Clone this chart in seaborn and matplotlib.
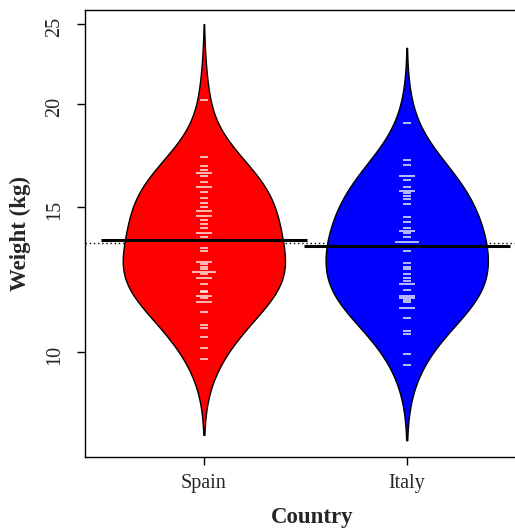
import numpy as np
import pandas as pd
import matplotlib
matplotlib.use("Agg")
import matplotlib.pyplot as plt
from matplotlib.ticker import NullLocator, FixedLocator
import seaborn as sns

countries = ["Spain", "Italy"]
colors = ["#FF0000", "#0000FF"]

spain_weight = [20.22, 17.25, 16.81, 16.63, 16.49, 16.49, 16.35, 16.08, 15.85, 15.85,
                15.63, 15.37, 15.16, 14.99, 14.82, 14.82, 14.62, 14.62, 14.45, 14.29,
                14.13, 13.95, 13.95, 13.79, 13.37, 13.26, 12.86, 12.86, 12.79, 12.69,
                12.62, 12.51, 12.51, 12.51, 12.44, 12.30, 12.30, 12.10, 11.86, 11.83,
                11.70, 11.70, 11.63, 11.50, 11.50, 11.19, 10.79, 10.70, 10.43, 10.12, 9.81]
italy_weight = [18.95, 17.10, 16.86, 16.35, 16.35, 16.17, 15.85, 15.68, 15.68, 15.59,
                15.46, 15.33, 15.12, 14.58, 14.37, 14.13, 14.01, 14.01, 13.95, 13.79,
                13.60, 13.60, 13.60, 13.41, 13.41, 13.26, 12.83, 12.69, 12.62, 12.44,
                12.30, 12.20, 12.10, 12.10, 11.90, 11.70, 11.70, 11.63, 11.63, 11.57,
                11.50, 11.31, 11.31, 11.00, 10.61, 10.52, 9.95, 9.65]

group_means = [13.67, 13.45]
overall_mean = 13.56

yticks = [10, 15, 20, 25]

df = pd.DataFrame({
    "Country": ["Spain"] * len(spain_weight) + ["Italy"] * len(italy_weight),
    "Weight": spain_weight + italy_weight,
})

sns.set_style("white")
plt.rcParams["font.family"] = ["Liberation Serif", "DejaVu Serif"]

W, H = 515, 529
fig = plt.figure(figsize=(W / 100, H / 100), dpi=100)
ax = fig.add_axes([85 / W, 1 - 457 / H, (540 - 85) / W, (457 - 10) / H])

ax.axhline(overall_mean, ls=(0, (1, 2)), lw=1.0, color="black", zorder=0.5)

sns.violinplot(data=df, x="Country", y="Weight", hue="Country", order=countries,
               hue_order=countries, palette=colors, legend=False, saturation=1,
               inner=None, cut=2.2, bw_method="scott", bw_adjust=1.35,
               density_norm="width", width=0.8, linewidth=1.0, linecolor="black",
               log_scale=True, ax=ax)

for i, vals in enumerate([spain_weight, italy_weight]):
    u, c = np.unique(vals, return_counts=True)
    for v, n in zip(u, c):
        ax.hlines(v, i - 0.02 * n, i + 0.02 * n, color="white", lw=1.2,
                  alpha=0.85, zorder=3)
    ax.hlines(group_means[i], i - 0.507, i + 0.507, color="black", lw=2.2, zorder=4)

ax.set_yscale("log")
ax.set_ylim(7.46, 26.0)
ax.set_xlim(-0.586, 1.657)
ax.yaxis.set_major_locator(FixedLocator(yticks))
ax.set_yticklabels([str(t) for t in yticks])
ax.yaxis.set_minor_locator(NullLocator())

for s in ["left", "bottom", "top", "right"]:
    ax.spines[s].set_color("black")
    ax.spines[s].set_linewidth(1.0)

ax.tick_params(axis="both", direction="out", length=6, width=1, color="black",
               labelsize=14.5, left=True, bottom=True)
ax.tick_params(axis="y", labelrotation=90, pad=9)
ax.tick_params(axis="x", pad=6)

ax.set_xlabel("Country", fontsize=16.5, fontweight="bold", labelpad=10)
ax.set_ylabel("Weight (kg)", fontsize=16.5, fontweight="bold", labelpad=10)

fig.savefig("out.png", dpi=100)
